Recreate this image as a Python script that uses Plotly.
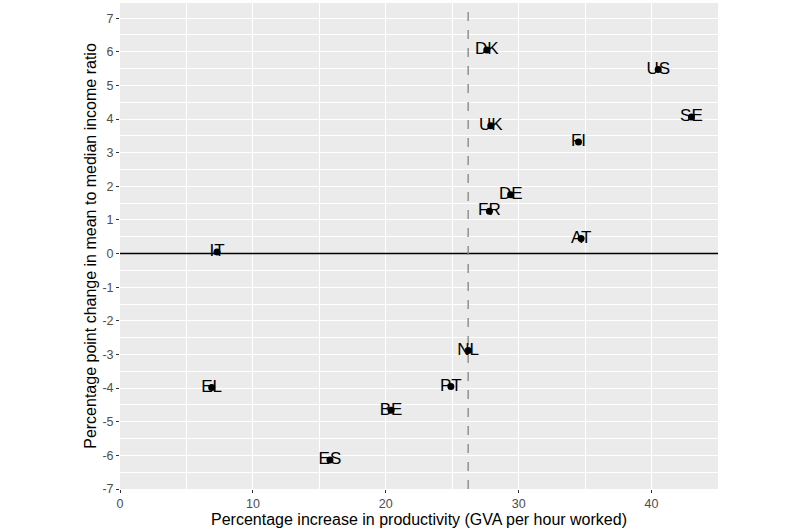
import plotly.graph_objects as go

countries = ['IT', 'DK', 'US', 'SE', 'UK', 'FI', 'DE', 'FR', 'AT', 'NL', 'PT', 'EL', 'BE', 'ES']
productivity = [7.3, 27.6, 40.5, 43.0, 27.9, 34.5, 29.4, 27.8, 34.7, 26.2, 24.9, 6.9, 20.4, 15.8]
ratio_change = [0.05, 6.05, 5.47, 4.06, 3.8, 3.32, 1.75, 1.26, 0.45, -2.88, -3.95, -3.98, -4.66, -6.14]
avg_productivity = 26.2

x_range = [0, 45]
y_range = [-7, 7.45]
x_ticks = [0, 10, 20, 30, 40]
y_ticks = list(range(-7, 8))
y_ticklabels = [str(v) for v in y_ticks]  # plain hyphen like ggplot

fig = go.Figure()

# reference lines first so the points sit on top
fig.add_trace(go.Scatter(x=x_range, y=[0, 0], mode='lines',
                         line=dict(color='black', width=1.4),
                         hoverinfo='skip', showlegend=False))
fig.add_trace(go.Scatter(x=[avg_productivity, avg_productivity], y=y_range, mode='lines',
                         line=dict(color='#8a8a8a', width=1.4, dash='dash'),
                         hoverinfo='skip', showlegend=False))

fig.add_trace(go.Scatter(x=productivity,
                         y=ratio_change,
                         mode='markers+text',
                         text=countries,
                         textposition='middle center',
                         textfont=dict(family='Liberation Sans', size=17, color='black'),
                         marker=dict(size=7, color='black'),
                         showlegend=False))

fig.update_xaxes(range=x_range,
                 tickvals=x_ticks,
                 ticks='outside', ticklen=3, tickcolor='#333333', tickwidth=1,
                 tickfont=dict(family='Liberation Sans', size=12.5, color='#4d4d4d'),
                 showgrid=True, gridcolor='white', gridwidth=1.3,
                 minor=dict(tickvals=[5, 15, 25, 35], showgrid=True, gridcolor='white', gridwidth=0.6),
                 zeroline=False, showline=False,
                 title=dict(text='Percentage increase in productivity (GVA per hour worked)',
                            font=dict(family='Liberation Sans', size=16, color='black'),
                            standoff=3))

fig.update_yaxes(range=y_range,
                 tickvals=y_ticks, ticktext=y_ticklabels,
                 ticks='outside', ticklen=3, tickcolor='#333333', tickwidth=1,
                 tickfont=dict(family='Liberation Sans', size=12.5, color='#4d4d4d'),
                 showgrid=True, gridcolor='white', gridwidth=1.3,
                 minor=dict(dtick=0.5, tick0=0.5, showgrid=True, gridcolor='white', gridwidth=0.6),
                 zeroline=False, showline=False,
                 title=dict(text='Percentage point change in mean to median income ratio',
                            font=dict(family='Liberation Sans', size=16, color='black'),
                            standoff=1))

fig.update_layout(width=800, height=530,
                  plot_bgcolor='#ebebeb', paper_bgcolor='white',
                  margin=dict(l=120, r=82, t=3, b=41),
                  font=dict(family='Liberation Sans'))

fig.write_html("out.html", config={'displayModeBar': False},
               post_script="document.body.style.margin='0';")
